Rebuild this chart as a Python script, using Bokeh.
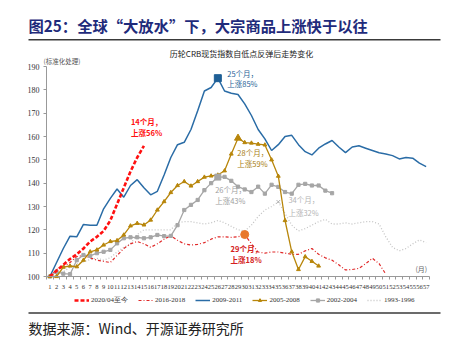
from bokeh.plotting import figure
from bokeh.models import (Range1d, FixedTicker, Label, Legend, LegendItem,
                          LinearAxis, BoxAnnotation)
from bokeh.embed import file_html
from bokeh.resources import INLINE

# ---------------- data ----------------
months = list(range(1, 58))
month_labels = [str(m) for m in months]
y_ticks = [100, 110, 120, 130, 140, 150, 160, 170, 180, 190]

series_names = ["2020/04至今", "2016-2018", "2009-2011", "2005-2008", "2002-2004", "1993-1996"]

s2020 = [100, 102.5, 105, 107.5, 109.5, 112, 115, 117, 119.5, 124, 131, 138, 145, 151, 156]

s2016 = [100, 103, 104, 106, 108.5, 109, 108, 107, 106.5, 106,
         109, 112, 114, 115, 114, 112.5, 114, 116, 117.5, 115.5,
         114, 113.5, 113.8, 114.5, 116, 117, 117, 116.8, 117, 118,
         114, 110.5, 110, 110.5, 110.5, 110, 109.5, 109.5, 111, 112,
         109.5, 108, 107, 105, 102.8, 103, 103.5, 105.5, 107.8, 105.5, 101]

s2009 = [100, 106, 112, 117.3, 117, 122.3, 122, 122, 129, 133.5,
         137.5, 134, 139, 141.5, 138, 135, 136.5, 143.5, 151, 156.5,
         157.5, 163, 171, 179.5, 181, 185, 179.5, 178.5, 178, 174,
         169, 163, 159, 154, 156.5, 160, 160.5, 156.5, 153.5, 152.1,
         155, 156.8, 158.3, 155.5, 153.1, 155.5, 156, 155, 154, 153,
         152.5, 151.8, 150.4, 151, 150.7, 148.6, 147.1]

s2005 = [100, 100, 104, 104.5, 104.2, 107, 110.6, 111.4, 113.5, 115,
         115.4, 117.8, 121.7, 122.8, 122.1, 124.2, 128.5, 132.1, 136, 139,
         140.7, 138.8, 140.7, 142.6, 143.1, 143.5, 145.3, 152.5, 159.3, 157.4,
         157.2, 156.7, 156.4, 150, 143, 124, 110.6, 103, 108.5, 106.5, 104.5]

s2002 = [100, 102, 101.2, 101, 107, 109.2, 108.8, 110, 110.6, 111.4,
         114.2, 116.4, 116.8, 116.8, 116.4, 116.8, 117.8, 117.3, 117.4, 122,
         128.5, 130.7, 132.8, 137, 140, 142.6, 142.7, 141, 138.5, 137.3,
         136.2, 138.5, 135.5, 139.3, 138.4, 136.2, 135.5, 139.3, 139.7, 139,
         139, 136.8, 135.7]

s1993 = [100, 101, 102, 104, 105.5, 106.3, 107.3, 107.8, 107, 108,
         110.5, 112.5, 114, 118, 120, 120, 120, 120, 120, 123,
         123.5, 123.5, 123, 122.5, 123, 124, 123, 121.5, 120, 119.5,
         122, 125.7, 128.5, 130, 132, 127, 122, 119.5, 120.5, 122,
         123.5, 124.5, 122.5, 122.5, 123, 122.5, 123, 123.5, 123.5, 122.5,
         117, 112.5, 111, 112, 114, 115.7, 114.5]

# peak months (annotated)
peak_2016 = 30
peak_2009 = 26
peak_2005 = 29
peak_2002 = 26
peak_1993 = 35

title_text = "图25：全球“大放水”下，大宗商品上涨快于以往"
subtitle_text = "历轮CRB现货指数自低点反弹后走势变化"
ylabel_text = "(标准化处理)"
xunit_text = "(月)"
source_text = "数据来源：Wind、开源证券研究所"

# ---------------- layout (pixels) ----------------
W, H = 452, 346
PLOT_L, PLOT_R, PLOT_T, PLOT_B = 46, 429, 66, 276
X0, X1 = 0.5, 57.5
Y0, Y1 = 100, 190
px_x = (PLOT_R - PLOT_L) / (X1 - X0)
px_y = (PLOT_B - PLOT_T) / (Y1 - Y0)
x_start = X0 - PLOT_L / px_x
x_end = x_start + W / px_x
y_start = Y0 - (H - PLOT_B) / px_y
y_end = y_start + H / px_y

# ---------------- styles ----------------
C_RED = "#ff1010"
C_RED2 = "#e02828"
C_BLUE = "#2a6ca6"
C_GOLD = "#b8860b"
C_GRAY = "#a6a6a6"
C_LGRAY = "#c4c4c4"
C_ORANGE = "#e8782c"
C_RULE = "#3a3a3a"
SERIF = "Liberation Serif"
CJK = "Noto Sans CJK SC"

p = figure(width=W, height=H, output_backend="svg", toolbar_location=None,
           x_range=Range1d(x_start, x_end), y_range=Range1d(y_start, y_end),
           x_axis_type=None, y_axis_type=None,
           min_border=0, min_border_left=0, min_border_right=0,
           min_border_top=0, min_border_bottom=0)
p.outline_line_color = None
p.background_fill_color = "white"
p.border_fill_color = "white"

# axes at fixed positions
xaxis = LinearAxis(fixed_location=Y0, bounds=(X0, X1))
xaxis.ticker = FixedTicker(ticks=months, minor_ticks=[m + 0.5 for m in range(0, 58)])
xaxis.major_label_overrides = {m: lab for m, lab in zip(months, month_labels)}
xaxis.major_tick_out = 0
xaxis.major_tick_in = 0
xaxis.minor_tick_out = 3
xaxis.minor_tick_in = 0
xaxis.minor_tick_line_color = "#999999"
xaxis.axis_line_color = "#999999"
xaxis.major_label_text_font = SERIF
xaxis.major_label_text_font_size = "6.5px"
xaxis.major_label_text_color = "#333333"
xaxis.major_label_standoff = 5
p.add_layout(xaxis, "below")

yaxis = LinearAxis(fixed_location=X0, bounds=(Y0, Y1))
yaxis.ticker = FixedTicker(ticks=y_ticks, minor_ticks=[])
yaxis.major_tick_out = 3
yaxis.major_tick_in = 0
yaxis.major_tick_line_color = "#999999"
yaxis.axis_line_color = "#999999"
yaxis.major_label_text_font = SERIF
yaxis.major_label_text_font_size = "8px"
yaxis.major_label_text_color = "#333333"
yaxis.major_label_standoff = 4
p.add_layout(yaxis, "left")


def xs(vals):
    return months[:len(vals)]

r1993 = p.line(xs(s1993), s1993, line_color=C_LGRAY, line_width=1.3, line_dash="1 2")
r2016 = p.line(xs(s2016), s2016, line_color=C_RED2, line_width=1.2, line_dash="3 2 1 2")
r2002 = p.line(xs(s2002), s2002, line_color=C_GRAY, line_width=1.3)
r2002m = p.scatter(xs(s2002), s2002, marker="square", size=3.2, fill_color=C_GRAY, line_color=C_GRAY)
r2005 = p.line(xs(s2005), s2005, line_color=C_GOLD, line_width=1.3)
r2005m = p.scatter(xs(s2005), s2005, marker="triangle", size=3.8, fill_color=C_GOLD, line_color=C_GOLD)
r2009 = p.line(xs(s2009), s2009, line_color=C_BLUE, line_width=1.5)
r2020 = p.line(xs(s2020), s2020, line_color=C_RED, line_width=2.6, line_dash="4 2")

# peak markers
p.scatter([peak_2009], [s2009[peak_2009 - 1]], marker="square", size=7, fill_color="#1f5f96", line_color="#1f5f96")
p.scatter([peak_2005], [s2005[peak_2005 - 1]], marker="triangle", size=7, fill_color=C_GOLD, line_color=C_GOLD)
p.scatter([peak_2002], [s2002[peak_2002 - 1]], marker="square", size=6, fill_color=C_GRAY, line_color=C_GRAY)
p.scatter([peak_1993], [s1993[peak_1993 - 1]], marker="x", size=5, line_color="#b0b0b0", line_width=1)
p.scatter([peak_2016], [s2016[peak_2016 - 1]], marker="circle", size=8, fill_color=C_ORANGE, line_color=C_ORANGE)


def ann(x, y, text, color, align="left", bold=False):
    p.add_layout(Label(x=x, y=y, text=text, text_color=color, text_font=CJK,
                       text_font_size="7.5px", text_align=align, text_baseline="middle",
                       text_font_style="bold" if bold else "normal"))

ann(15.4, 166.6, "14个月，", C_RED, "center", True)
ann(15.4, 161.9, "上涨56%", C_RED, "center", True)
ann(27.4, 187.1, "25个月，", "#1f5f96")
ann(27.4, 182.6, "上涨85%", "#1f5f96")
ann(28.9, 153.1, "28个月，", "#a87c10")
ann(28.9, 148.4, "上涨59%", "#a87c10")
ann(25.6, 137.3, "26个月，", "#a0a0a0")
ann(25.6, 132.4, "上涨43%", "#a0a0a0")
ann(36.5, 132.8, "34个月，", "#b4b4b4")
ann(36.5, 127.4, "上涨32%", "#b4b4b4")
ann(27.9, 112.2, "29个月，", "#d42020", "left", True)
ann(27.9, 107.5, "上涨18%", "#d42020", "left", True)
p.add_layout(Label(x=55.4, y=103.4, text=xunit_text, text_font=CJK, text_font_size="7px",
                   text_color="#666666", text_baseline="middle"))

# legend (screen units; frame = whole canvas, origin bottom-left)
legend = Legend(items=[
    LegendItem(label=series_names[0], renderers=[r2020]),
    LegendItem(label=series_names[1], renderers=[r2016]),
    LegendItem(label=series_names[2], renderers=[r2009]),
    LegendItem(label=series_names[3], renderers=[r2005, r2005m]),
    LegendItem(label=series_names[4], renderers=[r2002, r2002m]),
    LegendItem(label=series_names[5], renderers=[r1993]),
], orientation="horizontal", location=(74, H - 305),
    label_text_font=SERIF, label_text_font_size="7px",
    label_text_color="#333333", glyph_width=15, glyph_height=8,
    label_standoff=2, spacing=10, padding=0, margin=0,
    border_line_color=None, background_fill_alpha=0, label_height=8)
p.add_layout(legend)


def slabel(cx, cy, text, size, color, align="left", bold=False):
    p.add_layout(Label(x=cx, y=H - cy, x_units="screen", y_units="screen", text=text,
                       text_font=CJK, text_font_size=size, text_color=color,
                       text_align=align, text_baseline="middle",
                       text_font_style="bold" if bold else "normal"))


def rule(cy, thick=1.5):
    p.add_layout(BoxAnnotation(left=28, right=440, bottom=H - cy - thick / 2, top=H - cy + thick / 2,
                               left_units="screen", right_units="screen",
                               top_units="screen", bottom_units="screen",
                               fill_color=C_RULE, fill_alpha=1, line_color=None))

slabel(28, 24, title_text, "15.3px", "#1f2b7b", bold=True)
rule(39.3)
slabel(241, 53.3, subtitle_text, "8px", "#222222", align="center")
slabel(43, 60.5, ylabel_text, "6.5px", "#555555")
rule(312.5)
slabel(28, 327, source_text, "14px", "#222222")

open("out.html", "w").write(file_html(p, INLINE))
